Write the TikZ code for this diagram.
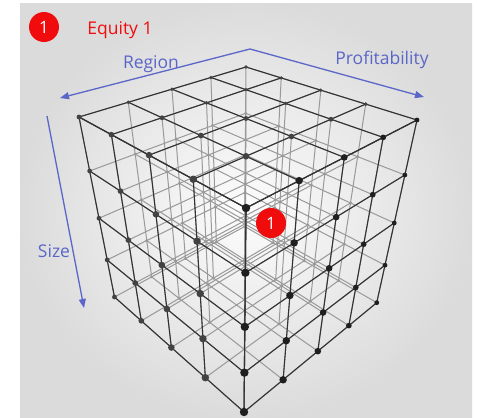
\documentclass[tikz,border=0pt]{standalone}
\usepackage{xcolor}
\usepackage{fontspec}
\setmainfont{Open Sans}
\usepackage{tikz}
\usetikzlibrary{arrows.meta, positioning}

\definecolor{axisblue}{RGB}{90,102,200}
\definecolor{badgered}{RGB}{240,12,12}

\begin{document}
\begin{tikzpicture}[x=1pt, y=-1pt,
    backline/.style={black!40, line width=1pt},
    frontline/.style={black!80, line width=1.1pt},
    axis/.style={axisblue, line width=1.3pt, -{Triangle[length=9pt, width=7pt]}},
    axislabel/.style={text=axisblue, font=\fontsize{17.5}{20}\selectfont, inner sep=0pt, anchor=base},
    badge/.style={circle, fill=badgered, text=white, minimum size=30pt, inner sep=0pt, font=\fontsize{17}{20}\selectfont}]

    % Background
    \useasboundingbox (0,0) rectangle (477,418);
    \fill[white] (0,0) rectangle (477,418);
    \shade[inner color=black!1, outer color=black!14] (20,3) rectangle (472,418);

    % Lattice points (perspective view of a 4x4x4 cube)
    \foreach \a in {0,...,4}{
      \foreach \b in {0,...,4}{
        \foreach \c in {0,...,4}{
          \pgfmathsetmacro\w{1-0.05078*\a-0.05544*\b+0.0568*\c}
          \pgfmathsetmacro\px{(246-45.76*\a+19.63*\b+13.57*\c)/\w}
          \pgfmathsetmacro\py{(67+6.558*\a+6.598*\b+52.73*\c)/\w}
          \coordinate (p\a\b\c) at (\px,\py);
        }
      }
    }

    % Inner grid lines
    \foreach \i in {0,...,4}{
      \foreach \j in {0,...,4}{
        \draw[backline] (p0\i\j) -- (p1\i\j) -- (p2\i\j) -- (p3\i\j) -- (p4\i\j);
        \draw[backline] (p\i0\j) -- (p\i1\j) -- (p\i2\j) -- (p\i3\j) -- (p\i4\j);
        \draw[backline] (p\i\j0) -- (p\i\j1) -- (p\i\j2) -- (p\i\j3) -- (p\i\j4);
      }
    }
    \foreach \a in {0,...,3}{\foreach \b in {0,...,3}{\foreach \c in {1,...,4}{
      \fill[black!40] (p\a\b\c) circle (1.6);
    }}}

    % Outer faces
    \foreach \i in {0,...,4}{
      % top
      \draw[frontline] (p0\i0) -- (p1\i0) -- (p2\i0) -- (p3\i0) -- (p4\i0);
      \draw[frontline] (p\i00) -- (p\i10) -- (p\i20) -- (p\i30) -- (p\i40);
      % right
      \draw[frontline] (p04\i) -- (p14\i) -- (p24\i) -- (p34\i) -- (p44\i);
      \draw[frontline] (p\i40) -- (p\i41) -- (p\i42) -- (p\i43) -- (p\i44);
      % left
      \draw[frontline] (p40\i) -- (p41\i) -- (p42\i) -- (p43\i) -- (p44\i);
      \draw[frontline] (p4\i0) -- (p4\i1) -- (p4\i2) -- (p4\i3) -- (p4\i4);
    }
    \foreach \a in {0,...,4}{\foreach \b in {0,...,4}{\foreach \c in {0,...,4}{
      \pgfmathtruncatemacro\vis{(\c==0)||(\a==4)||(\b==4)}
      \ifnum\vis=1
        \pgfmathsetmacro\rr{max(1.8,4.2-0.45*(8-\a-\b))}
        \ifnum\b=4 \def\dotcol{black!88}\else\def\dotcol{black!74}\fi
        \fill[\dotcol] (p\a\b\c) circle (\rr);
      \fi
    }}}

    % Badges
    \node[badge] (eqbadge) at (44,27) {1};
    \node[text=badgered, font=\fontsize{17.5}{20}\selectfont, inner sep=0pt, anchor=base] (eqlabel) at (120,34) {Equity 1};
    \node[badge] (cellbadge) at (271,223) {1};

    % Axes
    \coordinate (regtip) at (60,98);
    \coordinate (apex) at (250,49);
    \coordinate (proftip) at (424,97);
    \draw[axis, {Triangle[length=9pt, width=7pt]}-{Triangle[length=9pt, width=7pt]}] (regtip) -- (apex) -- (proftip);
    \coordinate (sizetop) at (47,116);
    \coordinate (sizetip) at (84,308);
    \draw[axis] (sizetop) -- (sizetip);

    \node[axislabel] (region) at (151,68) {Region};
    \node[axislabel] (profit) at (382,64) {Profitability};
    \node[axislabel] (size) at (54,257) {Size};
\end{tikzpicture}
\end{document}
